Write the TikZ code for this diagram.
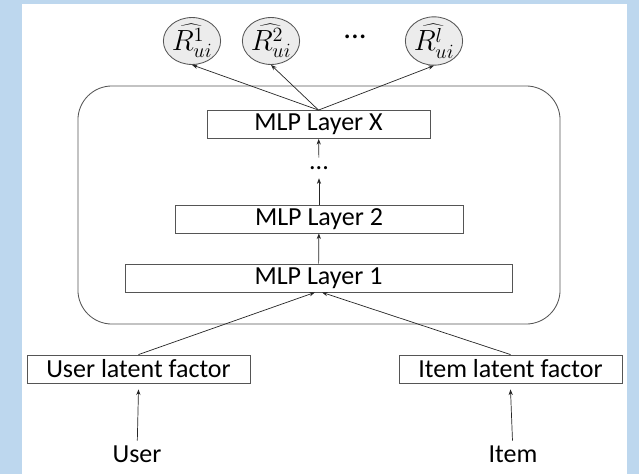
\documentclass[tikz,border=0pt]{standalone}
\usepackage{fontspec}
\setmainfont{Carlito}
\usepackage{tikz}
\usetikzlibrary{arrows.meta}
\usetikzlibrary{shapes}
\definecolor{mybg}{RGB}{189,215,238}
\definecolor{myline}{RGB}{85,85,85}

\begin{document}
\begin{tikzpicture}[x=0.025cm,y=-0.025cm,
  every node/.style={font=\fontsize{18.5}{22}\selectfont},
  layer/.style={draw=myline,line width=0.6pt,minimum height=0.7cm,inner sep=0pt},
  outnode/.style={ellipse,draw=myline,fill=gray!15,line width=0.6pt,minimum width=1.4cm,minimum height=1.17cm,inner sep=0pt,font=\fontsize{22}{24}\selectfont},
  arr/.style={-{Stealth[length=4pt,width=3pt]},line width=0.5pt,draw=black!85}]

% page and frame
\fill[mybg] (0,0) rectangle (639,474);
\fill[white] (22,4) rectangle (627,474);
\useasboundingbox (0,0) rectangle (639,474);

\node[draw=myline,line width=0.6pt,rounded corners=0.85cm,minimum width=12.05cm,minimum height=5.95cm] (block) at (319,205) {};

% mlp stack
\node[layer,minimum width=9.675cm] (l1) at (318.5,278) {MLP Layer 1};
\node[layer,minimum width=7.2cm] (l2) at (319,219) {MLP Layer 2};
\node[inner sep=6pt] (dots) at (319,168) {...};
\node[layer,minimum width=5.575cm] (lx) at (318.5,124.5) {MLP Layer X};

% outputs
\node[outnode] (r1) at (192,41) {$\widehat{R_{ui}^{1}}$};
\node[outnode] (r2) at (271,41) {$\widehat{R_{ui}^{2}}$};
\node[font=\fontsize{22}{24}\selectfont] (rdots) at (355,37) {...};
\node[outnode,minimum width=1.2cm] (rl) at (434,41) {$\widehat{R_{ui}^{l}}$};

% inputs
\node[layer,minimum width=5.575cm] (ulf) at (138.5,369) {User latent factor};
\node[layer,minimum width=5.575cm] (ilf) at (510.5,369) {Item latent factor};
\node (user) at (137,454) {User};
\node (item) at (513,454) {Item};

\draw[arr] (user) -- ([yshift=-0.15cm]ulf.south);
\draw[arr] (item) -- ([yshift=-0.15cm]ilf.south);
\draw[arr] (ulf.north) -- ([xshift=-0.09cm]l1.south);
\draw[arr] (ilf.north) -- ([xshift=0.09cm]l1.south);
\draw[arr] (l1) -- (l2);
\draw[arr] (l2) -- (dots);
\draw[arr] (dots) -- (lx);
\foreach \r in {r1,r2,rl}
  \draw[arr] (lx.north) -- (\r.south);
\end{tikzpicture}
\end{document}
